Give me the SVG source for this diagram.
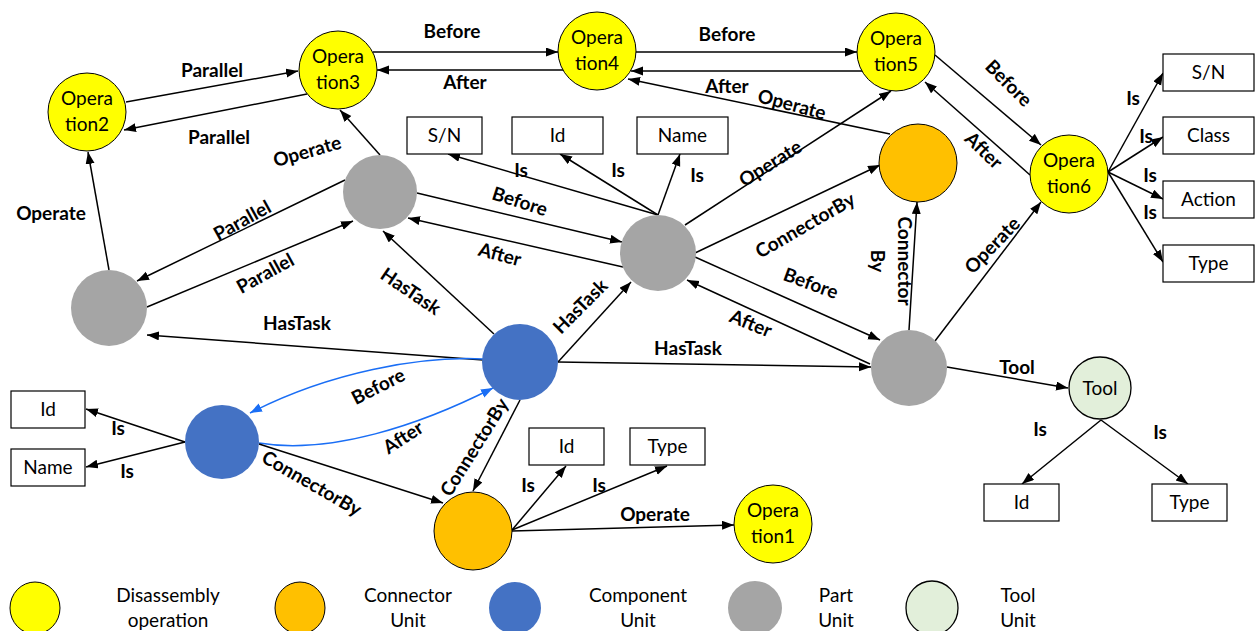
<svg xmlns="http://www.w3.org/2000/svg" width="1255" height="631" viewBox="0 0 1255 631">
  <style>
    .edge { stroke: #000; stroke-width: 1.5; fill: none; marker-end: url(#arr); }
    .blue { stroke: #1a6ef5; stroke-width: 1.5; fill: none; marker-end: url(#arrB); }
    .lbl { font-family: Lato, "Open Sans", sans-serif; font-weight: bold; font-size: 19px; fill: #000; text-anchor: middle; }
    .ntxt { font-family: Lato, "Open Sans", sans-serif; font-size: 19px; fill: #000; text-anchor: middle; }
    .btxt { font-family: Lato, "Open Sans", sans-serif; font-size: 19px; fill: #000; text-anchor: middle; }
    .leg { font-family: Lato, "Open Sans", sans-serif; font-size: 19px; fill: #000; text-anchor: middle; }
    .op { fill: #ffff00; stroke: #000; stroke-width: 1; }
    .conn { fill: #ffc000; stroke: #000; stroke-width: 1; }
    .comp { fill: #4472c4; }
    .part { fill: #a5a5a5; }
    .tool { fill: #e2efda; stroke: #000; stroke-width: 1.3; }
    .box { fill: #fff; stroke: #000; stroke-width: 1.2; }
  </style>
  <defs>
    <marker id="arr" markerUnits="userSpaceOnUse" markerWidth="13" markerHeight="10" refX="12" refY="4.5" orient="auto">
      <path d="M0,0 L12,4.5 L0,9 z" fill="#000"/>
    </marker>
    <marker id="arrB" markerUnits="userSpaceOnUse" markerWidth="13" markerHeight="10" refX="12" refY="4.5" orient="auto">
      <path d="M0,0 L12,4.5 L0,9 z" fill="#1a6ef5"/>
    </marker>
  </defs>
  <rect width="1255" height="631" fill="#fff"/>

  <!-- connectors -->
  <g id="connectors">
    <line class="edge" x1="126" y1="102" x2="298" y2="71"/>
    <line class="edge" x1="307" y1="94" x2="124" y2="130"/>
    <line class="edge" x1="373" y1="52" x2="558" y2="52"/>
    <line class="edge" x1="563" y1="70" x2="377" y2="70"/>
    <line class="edge" x1="636" y1="52" x2="857" y2="52"/>
    <line class="edge" x1="862" y1="71" x2="631" y2="71"/>
    <line class="edge" x1="890" y1="134" x2="628" y2="79"/>
    <line class="edge" x1="935" y1="55" x2="1041" y2="145"/>
    <line class="edge" x1="1030" y1="175" x2="925" y2="82"/>
    <line class="edge" x1="1108" y1="172" x2="1163" y2="73"/>
    <line class="edge" x1="1108" y1="172" x2="1163" y2="137"/>
    <line class="edge" x1="1108" y1="172" x2="1163" y2="199"/>
    <line class="edge" x1="1108" y1="172" x2="1163" y2="262"/>
    <line class="edge" x1="380" y1="155" x2="340" y2="110"/>
    <line class="edge" x1="109" y1="270" x2="88" y2="152"/>
    <line class="edge" x1="345" y1="180" x2="137" y2="281"/>
    <line class="edge" x1="147" y1="307" x2="353" y2="221"/>
    <line class="edge" x1="483" y1="360" x2="147" y2="335"/>
    <line class="edge" x1="494" y1="334" x2="383" y2="231"/>
    <line class="edge" x1="558" y1="362" x2="631" y2="282"/>
    <line class="edge" x1="558" y1="362" x2="871" y2="367"/>
    <line class="edge" x1="417" y1="193" x2="622" y2="242"/>
    <line class="edge" x1="623" y1="267" x2="408" y2="218"/>
    <line class="edge" x1="658" y1="215" x2="448" y2="154"/>
    <line class="edge" x1="658" y1="215" x2="560" y2="154"/>
    <line class="edge" x1="658" y1="215" x2="680" y2="154"/>
    <line class="edge" x1="685" y1="225" x2="891" y2="91"/>
    <line class="edge" x1="695" y1="253" x2="880" y2="165"/>
    <line class="edge" x1="695" y1="257" x2="880" y2="340"/>
    <line class="edge" x1="870" y1="364" x2="687" y2="280"/>
    <line class="edge" x1="909" y1="330" x2="917" y2="202"/>
    <line class="edge" x1="935" y1="341" x2="1041" y2="202"/>
    <line class="edge" x1="947" y1="367" x2="1068" y2="388"/>
    <line class="edge" x1="1101" y1="420" x2="1022" y2="484"/>
    <line class="edge" x1="1101" y1="420" x2="1188" y2="484"/>
    <line class="edge" x1="185" y1="442" x2="86" y2="409"/>
    <line class="edge" x1="185" y1="442" x2="86" y2="467"/>
    <path class="blue" d="M483,359 C420,356 330,372 250,413"/>
    <path class="blue" d="M259,443 C330,455 420,425 493,388"/>
    <line class="edge" x1="259" y1="444" x2="443" y2="503"/>
    <line class="edge" x1="520" y1="400" x2="473" y2="491"/>
    <line class="edge" x1="512" y1="530" x2="566" y2="466"/>
    <line class="edge" x1="512" y1="530" x2="667" y2="466"/>
    <line class="edge" x1="512" y1="531" x2="734" y2="525"/>
  </g>

  <!-- connector labels -->
  <g id="edge-labels">
    <text class="lbl" x="212" y="77">Parallel</text>
    <text class="lbl" x="219" y="144">Parallel</text>
    <text class="lbl" x="452" y="38">Before</text>
    <text class="lbl" x="465" y="89">After</text>
    <text class="lbl" x="727" y="41">Before</text>
    <text class="lbl" x="727" y="93">After</text>
    <text class="lbl" transform="translate(792,104) rotate(15)" y="7">Operate</text>
    <text class="lbl" transform="translate(1009,83) rotate(45)" y="7">Before</text>
    <text class="lbl" transform="translate(984,150) rotate(44)" y="7">After</text>
    <text class="lbl" x="1133" y="105">Is</text>
    <text class="lbl" x="1146" y="143">Is</text>
    <text class="lbl" x="1150" y="182">Is</text>
    <text class="lbl" x="1150" y="219">Is</text>
    <text class="lbl" transform="translate(307,151) rotate(-16)" y="7">Operate</text>
    <text class="lbl" x="51" y="220">Operate</text>
    <text class="lbl" transform="translate(242,220) rotate(-29)" y="7">Parallel</text>
    <text class="lbl" transform="translate(265,273) rotate(-29)" y="7">Parallel</text>
    <text class="lbl" x="297" y="330">HasTask</text>
    <text class="lbl" transform="translate(411,291) rotate(34)" y="7">HasTask</text>
    <text class="lbl" transform="translate(580,306) rotate(-45)" y="7">HasTask</text>
    <text class="lbl" x="688" y="355">HasTask</text>
    <text class="lbl" transform="translate(520,201) rotate(18)" y="7">Before</text>
    <text class="lbl" transform="translate(500,254) rotate(15)" y="7">After</text>
    <text class="lbl" x="521" y="177">Is</text>
    <text class="lbl" x="618" y="177">Is</text>
    <text class="lbl" x="697" y="182">Is</text>
    <text class="lbl" transform="translate(770,163) rotate(-32)" y="7">Operate</text>
    <text class="lbl" transform="translate(805,225) rotate(-30)" y="7">ConnectorBy</text>
    <text class="lbl" transform="translate(811,283) rotate(20)" y="7">Before</text>
    <text class="lbl" transform="translate(751,323) rotate(22)" y="7">After</text>
    <text class="lbl" transform="translate(905,261) rotate(90)" y="7">Connector</text>
    <text class="lbl" transform="translate(878,261) rotate(90)" y="7">By</text>
    <text class="lbl" transform="translate(992,245) rotate(-46)" y="7">Operate</text>
    <text class="lbl" x="1017" y="374">Tool</text>
    <text class="lbl" x="1040" y="436">Is</text>
    <text class="lbl" x="1160" y="439">Is</text>
    <text class="lbl" x="118" y="435">Is</text>
    <text class="lbl" x="127" y="478">Is</text>
    <text class="lbl" transform="translate(378,386) rotate(-27)" y="7">Before</text>
    <text class="lbl" transform="translate(403,437) rotate(-33)" y="7">After</text>
    <text class="lbl" transform="translate(312,483) rotate(30)" y="7">ConnectorBy</text>
    <text class="lbl" transform="translate(474,447) rotate(-58)" y="7">ConnectorBy</text>
    <text class="lbl" x="528" y="492">Is</text>
    <text class="lbl" x="599" y="492">Is</text>
    <text class="lbl" x="655" y="521">Operate</text>
  </g>

  <!-- disassembly operations -->
  <g id="op1"><circle class="op" cx="773" cy="524" r="39"/><text class="ntxt" x="773" y="517">Opera</text><text class="ntxt" x="773" y="543">tion1</text></g>
  <g id="op2"><circle class="op" cx="87" cy="112" r="39"/><text class="ntxt" x="87" y="105">Opera</text><text class="ntxt" x="87" y="131">tion2</text></g>
  <g id="op3"><circle class="op" cx="338" cy="70" r="39"/><text class="ntxt" x="338" y="63">Opera</text><text class="ntxt" x="338" y="89">tion3</text></g>
  <g id="op4"><circle class="op" cx="597" cy="51" r="39"/><text class="ntxt" x="597" y="44">Opera</text><text class="ntxt" x="597" y="70">tion4</text></g>
  <g id="op5"><circle class="op" cx="896" cy="52" r="39"/><text class="ntxt" x="896" y="45">Opera</text><text class="ntxt" x="896" y="71">tion5</text></g>
  <g id="op6"><circle class="op" cx="1069" cy="174" r="39"/><text class="ntxt" x="1069" y="167">Opera</text><text class="ntxt" x="1069" y="193">tion6</text></g>

  <!-- connector units -->
  <g id="conn-top"><circle class="conn" cx="918" cy="163" r="39"/></g>
  <g id="conn-bottom"><circle class="conn" cx="473" cy="531" r="39"/></g>

  <!-- component units -->
  <g id="comp-main"><circle class="comp" cx="520" cy="362" r="38"/></g>
  <g id="comp-left"><circle class="comp" cx="222" cy="442" r="37"/></g>

  <!-- part units -->
  <g id="part-a"><circle class="part" cx="380" cy="192" r="37"/></g>
  <g id="part-b"><circle class="part" cx="109" cy="308" r="38"/></g>
  <g id="part-c"><circle class="part" cx="658" cy="253" r="38"/></g>
  <g id="part-d"><circle class="part" cx="909" cy="368" r="38"/></g>

  <!-- tool -->
  <g id="tool"><circle class="tool" cx="1100" cy="388" r="31"/><text class="ntxt" x="1100" y="395">Tool</text></g>

  <!-- attribute boxes -->
  <g id="box-sn-c"><rect class="box" x="407" y="117" width="75" height="37"/><text class="btxt" x="444.5" y="142">S/N</text></g>
  <g id="box-id-c"><rect class="box" x="512" y="117" width="91" height="37"/><text class="btxt" x="557.5" y="142">Id</text></g>
  <g id="box-name-c"><rect class="box" x="637" y="117" width="91" height="37"/><text class="btxt" x="682.5" y="142">Name</text></g>
  <g id="box-sn-op6"><rect class="box" x="1163" y="54" width="91" height="37"/><text class="btxt" x="1208.5" y="79">S/N</text></g>
  <g id="box-class-op6"><rect class="box" x="1163" y="117" width="91" height="37"/><text class="btxt" x="1208.5" y="142">Class</text></g>
  <g id="box-action-op6"><rect class="box" x="1163" y="181" width="91" height="37"/><text class="btxt" x="1208.5" y="206">Action</text></g>
  <g id="box-type-op6"><rect class="box" x="1163" y="245" width="91" height="37"/><text class="btxt" x="1208.5" y="270">Type</text></g>
  <g id="box-id-l"><rect class="box" x="11" y="391" width="74" height="37"/><text class="btxt" x="48" y="416">Id</text></g>
  <g id="box-name-l"><rect class="box" x="11" y="449" width="74" height="37"/><text class="btxt" x="48" y="474">Name</text></g>
  <g id="box-id-b"><rect class="box" x="529" y="428" width="75" height="37"/><text class="btxt" x="566.5" y="453">Id</text></g>
  <g id="box-type-b"><rect class="box" x="630" y="428" width="75" height="37"/><text class="btxt" x="667.5" y="453">Type</text></g>
  <g id="box-id-t"><rect class="box" x="984" y="484" width="75" height="37"/><text class="btxt" x="1021.5" y="509">Id</text></g>
  <g id="box-type-t"><rect class="box" x="1152" y="484" width="75" height="37"/><text class="btxt" x="1189.5" y="509">Type</text></g>

  <!-- legend -->
  <g id="legend">
    <ellipse class="op" cx="35" cy="608" rx="25" ry="26"/>
    <text class="leg" x="168" y="602">Disassembly</text>
    <text class="leg" x="168" y="627">operation</text>
    <ellipse class="conn" cx="300" cy="608" rx="25" ry="26"/>
    <text class="leg" x="408" y="602">Connector</text>
    <text class="leg" x="408" y="627">Unit</text>
    <ellipse class="comp" cx="515" cy="608" rx="26" ry="26"/>
    <text class="leg" x="638" y="602">Component</text>
    <text class="leg" x="638" y="627">Unit</text>
    <ellipse class="part" cx="755" cy="608" rx="27" ry="27"/>
    <text class="leg" x="836" y="602">Part</text>
    <text class="leg" x="836" y="627">Unit</text>
    <ellipse class="tool" cx="932" cy="608" rx="26" ry="27"/>
    <text class="leg" x="1018" y="602">Tool</text>
    <text class="leg" x="1018" y="627">Unit</text>
  </g>
</svg>
